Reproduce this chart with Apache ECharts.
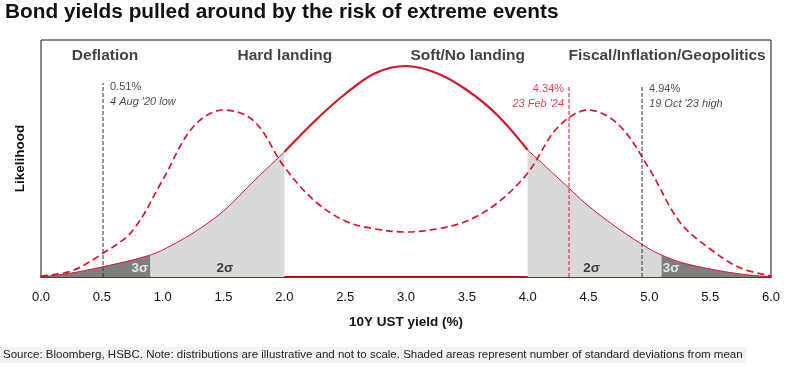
<!DOCTYPE html>
<html>
<head>
<meta charset="utf-8">
<script src="https://cdn.jsdelivr.net/npm/echarts@6/dist/echarts.min.js"></script>
<style>html,body{margin:0;padding:0;background:#fff}#c{width:787px;height:368px}</style>
</head>
<body>
<div id="c"></div>
<script>
// ---- data ----
const titleText = 'Bond yields pulled around by the risk of extreme events';
const footText = 'Source: Bloomberg, HSBC. Note: distributions are illustrative and not to scale. Shaded areas represent number of standard deviations from mean';
const xAxisName = '10Y UST yield (%)';
const yAxisName = 'Likelihood';

// central (solid) distribution
const solidX = [0,0.25,0.5,0.75,0.9,1.0,1.25,1.5,1.75,2.0,2.25,2.5,2.75,3.0,3.25,3.5,3.75,4.0,4.25,4.5,4.75,5.0,5.1,5.25,5.5,5.75,6.0];
const solidY = [0,4,10,17,22,27,44,66,96,125,156,183,204,211,204,187,162,127,99,71,48,28,22,15,8,3,0];

// bimodal (dashed) distribution
const dashX = [0,0.25,0.5,0.75,1.0,1.25,1.5,1.75,2.0,2.25,2.5,2.75,3.0,3.25,3.5,3.75,4.0,4.25,4.5,4.75,5.0,5.25,5.5,5.75,6.0];
const dashY = [1,6,23,46,97,150,167,156,110,76,56,48,45,48,56,74,104,150,167,152,108,55,28,9,1];

// shaded bands (x ranges)
const band3L = [0, 0.9];
const band2L = [0.9, 2.0];
const band2R = [4.0, 5.1];
const band3R = [5.1, 6.0];

// reference lines
const refX = [0.51, 4.34, 4.94];
const refTop = [194, 192, 192];
const refValue = ['0.51%', '4.34%', '4.94%'];
const refNote = ["4 Aug '20 low", "23 Feb '24", "19 Oct '23 high"];

// scenario headers
const scenarios = ['Deflation', 'Hard landing', 'Soft/No landing', 'Fiscal/Inflation/Geopolitics'];
const scenarioX = [0.526, 2.004, 3.507, 5.146];

// sigma labels
const sigmaText = ['3σ', '2σ', '2σ', '3σ'];
const sigmaX = [0.813, 1.511, 4.526, 5.18];

// ---- build ----
const RED = '#d3172b';
const FONT = 'Liberation Sans';
const pts = (xs, ys) => xs.map((x, i) => [x, ys[i]]);
const solidPts = pts(solidX, solidY);
const seg = (r) => solidPts.filter(p => p[0] >= r[0] - 1e-9 && p[0] <= r[1] + 1e-9);

function areaSeries(r, fill) {
  return {
    type: 'line', data: seg(r), smooth: 0.35, symbol: 'none', z: 2,
    lineStyle: { color: RED, width: 1 },
    areaStyle: { color: fill, opacity: 1 }
  };
}

const series = [
  areaSeries(band3L, '#7f7f7f'),
  areaSeries(band2L, '#d9d9d9'),
  areaSeries(band2R, '#d9d9d9'),
  areaSeries(band3R, '#7f7f7f'),
  {
    type: 'line', data: seg([2.0, 4.0]), smooth: 0.35, symbol: 'none', z: 3,
    lineStyle: { color: RED, width: 2.2 }
  },
  {
    type: 'line', data: pts(dashX, dashY), smooth: 0.35, symbol: 'none', z: 4,
    lineStyle: { color: RED, width: 1.7, type: [7, 4] }
  }
];

const refColors = ['#333333', RED, '#333333'];
refX.forEach((x, i) => {
  series.push({
    type: 'line', data: [[x, 0], [x, refTop[i]]], symbol: 'none', z: 5,
    lineStyle: { color: refColors[i], width: 1, type: [4, 2] }
  });
});

// reference annotations
const refAlignRight = [false, true, false];
series.push({
  type: 'scatter', symbolSize: 0, z: 10, silent: true,
  data: refX.map((x, i) => ({
    value: [x, refTop[i]],
    label: {
      show: true,
      position: refAlignRight[i] ? [-5, -4] : [7, -4],
      align: refAlignRight[i] ? 'right' : 'left',
      verticalAlign: 'top',
      formatter: '{a|' + refValue[i] + '}\n{b|' + refNote[i] + '}',
      rich: {
        a: { fontSize: 11, lineHeight: 15, color: refColors[i] === RED ? RED : '#222', fontFamily: FONT, align: refAlignRight[i] ? 'right' : 'left' },
        b: { fontSize: 11, lineHeight: 15, fontStyle: 'italic', color: refColors[i] === RED ? RED : '#222', fontFamily: FONT, align: refAlignRight[i] ? 'right' : 'left' }
      }
    }
  }))
});

// scenario headers
series.push({
  type: 'scatter', symbolSize: 0, z: 10, silent: true,
  data: scenarioX.map((x, i) => ({
    value: [x, 221],
    label: {
      show: true, position: 'inside', formatter: scenarios[i],
      fontFamily: FONT, fontWeight: 'bold', fontSize: 15.5, color: '#111'
    }
  }))
});

// sigma labels
series.push({
  type: 'scatter', symbolSize: 0, z: 10, silent: true,
  data: sigmaX.map((x, i) => ({
    value: [x, 9],
    label: {
      show: true, position: 'inside', formatter: sigmaText[i],
      fontFamily: FONT, fontWeight: 'bold', fontSize: 13.5,
      color: sigmaText[i] === '3σ' ? '#ffffff' : '#111'
    }
  }))
});

const chart = echarts.init(document.getElementById('c'), null, { renderer: 'canvas' });
chart.setOption({
  animation: false,
  backgroundColor: '#fff',
  title: [
    {
      text: titleText, left: 5, top: 2, padding: 0,
      textStyle: { fontFamily: FONT, fontWeight: 'bold', fontSize: 20.8, color: '#111' }
    },
    {
      text: footText, left: 0, top: 347, padding: [2, 4, 2, 3], backgroundColor: '#f3f3f3',
      textStyle: { fontFamily: FONT, fontWeight: 'normal', fontSize: 11.5, color: '#222' }
    }
  ],
  grid: { left: 41, right: 16, top: 40, bottom: 91, show: true, borderColor: '#111', borderWidth: 1, backgroundColor: 'transparent' },
  xAxis: {
    type: 'value', min: 0, max: 6, interval: 0.5,
    axisLine: { show: true, lineStyle: { color: '#b01020', width: 2 } },
    axisTick: { show: false },
    splitLine: { show: false },
    axisLabel: { formatter: v => v.toFixed(1), fontSize: 13, color: '#111', margin: 14, fontFamily: FONT },
    name: xAxisName, nameLocation: 'middle', nameGap: 38,
    nameTextStyle: { fontFamily: FONT, fontWeight: 'bold', fontSize: 13.5, color: '#111' }
  },
  yAxis: {
    type: 'value', min: 0, max: 237,
    axisLine: { show: false }, axisTick: { show: false }, axisLabel: { show: false }, splitLine: { show: false },
    name: yAxisName, nameLocation: 'middle', nameGap: 14, nameRotate: 90,
    nameTextStyle: { fontFamily: FONT, fontWeight: 'bold', fontSize: 13.5, color: '#111' }
  },
  series: series
});
</script>
</body>
</html>
